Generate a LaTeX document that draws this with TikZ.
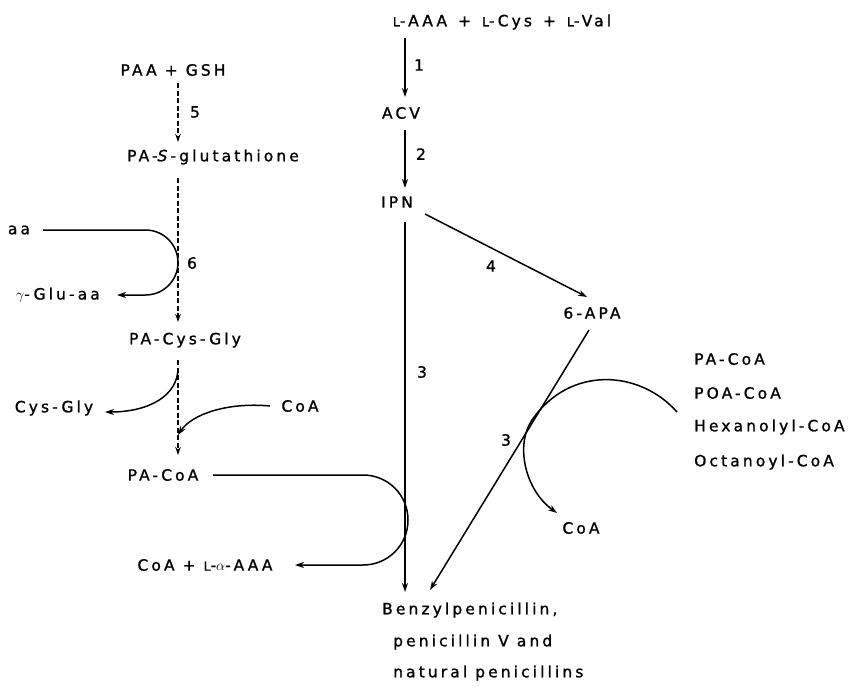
\documentclass[tikz,border=0pt]{standalone}
\usepackage{fontspec}
\usetikzlibrary{arrows.meta}
\newfontfamily\labfont[LetterSpace=20,FakeBold=1.2]{DejaVu Sans}
\newcommand{\smL}{{\fontsize{12.5}{12}\selectfont L}}
\newcommand{\plusgap}{\hspace{11pt}+\hspace{11pt}}
\begin{document}
\begin{tikzpicture}[x=1pt,y=-1pt,
  txt/.style={inner sep=0pt, font=\labfont\fontsize{15.5}{17}\selectfont},
  num/.style={inner sep=0pt, font=\labfont\fontsize{15.5}{17}\selectfont},
  arr/.style={line width=1.5pt, -{Stealth[length=9pt,width=6pt]}},
  dashline/.style={line width=1.3pt, dash pattern=on 5pt off 2.5pt, -{Stealth[length=8pt,width=5.5pt]}}]
\useasboundingbox (0,0) rectangle (851,686);
\coordinate (colR) at (405,0);
\coordinate (colL) at (178,0);
% right column nodes
\node[txt] (top) at (502,22) {\smL-AAA\plusgap\smL-Cys\plusgap\smL-Val};
\node[txt] (acv) at (401,113) {ACV};
\node[txt] (ipn) at (397,202) {IPN};
\node[txt] (apa) at (592,313) {6-APA};
\node[txt, anchor=west] (b1) at (382,610) {Benzylpenicillin,};
\node[txt, anchor=west] (b2) at (393,642) {penicillin V and};
\node[txt, anchor=west] (b3) at (393,673) {natural penicillins};
\node[txt, anchor=west] (r1) at (694,359) {PA-CoA};
\node[txt, anchor=west] (r2) at (694,393) {POA-CoA};
\node[txt, anchor=west] (r3) at (694,427) {Hexanolyl-CoA};
\node[txt, anchor=west] (r4) at (694,462) {Octanoyl-CoA};
\node[txt] (coaR) at (581,528) {CoA};
% left column nodes
\node[txt] (paa) at (173,70) {PAA + GSH};
\node[txt] (pas) at (213,157) {PA-\textit{S}-glutathione};
\node[txt] (aa) at (19,230) {aa};
\node[txt] (glu) at (58,295) {$\gamma$-Glu-aa};
\node[txt] (pacg) at (185,340) {PA-Cys-Gly};
\node[txt] (cysgly) at (54,408) {Cys-Gly};
\node[txt] (coaL) at (300,406) {CoA};
\node[txt] (pacoa) at (163,475) {PA-CoA};
\node[txt] (coaaaa) at (205,565) {CoA + \smL-$\alpha$-AAA};
% step numbers
\node[num] (n1) at (419,65) {1};
\node[num] (n2) at (421,154) {2};
\node[num] (n3) at (422,372) {3};
\node[num] (n4) at (491,266) {4};
\node[num] (n3b) at (506,440) {3};
\node[num] (n5) at (195,112) {5};
\node[num] (n6) at (192,263) {6};
% right connectors
\draw[arr] ([yshift=-16pt]top.center -| colR) -- ([yshift=16pt]acv.center -| colR);
\draw[arr] ([yshift=-17pt]acv.center -| colR) -- ([yshift=14pt]ipn.center -| colR);
\draw[arr] ([yshift=-20pt]ipn.center -| colR) -- ([yshift=18pt]b1.west -| colR);
\draw[arr] ([xshift=28pt,yshift=-12pt]ipn.center) -- ([xshift=-5pt,yshift=16pt]apa.center);
\draw[arr] ([xshift=-3pt,yshift=-17pt]apa.center) -- ([xshift=48pt,yshift=20pt]b1.west);
\coordinate (rs) at (677,412);
\draw[arr] (rs) .. controls (640,370) and (570,365) .. (532,420)
  .. controls (515,445) and (525,490) .. ([xshift=-24pt,yshift=15pt]coaR.center);
% left connectors
\draw[dashline] ([yshift=-13pt]paa.center -| colL) -- ([yshift=15pt]pas.center -| colL);
\draw[dashline] ([yshift=-21pt]pas.center -| colL) -- ([yshift=18pt]pacg.center -| colL);
\draw[dashline] ([yshift=-20pt]pacg.center -| colL) -- ([yshift=20pt]pacoa.center -| colL);
\draw[arr] ([xshift=24pt]aa.center) -- (145.5,230) .. controls (163.5,230) and (178,244.5) .. (178,262.5)
  .. controls (178,280.5) and (163.5,295) .. (145.5,295) -- ([xshift=59pt]glu.center);
\draw[arr] (178,368) .. controls (178,395) and (150,412) .. ([xshift=51pt,yshift=-4pt]cysgly.center);
\draw[arr] ([xshift=-30pt]coaL.center) .. controls (228,402) and (192,414) .. (178,435);
\draw[arr] ([xshift=50pt]pacoa.center) -- (363,475) .. controls (388,475) and (408,495) .. (408,520)
  .. controls (408,545) and (388,565) .. (363,565) -- ([xshift=90pt]coaaaa.center);
\end{tikzpicture}
\end{document}
